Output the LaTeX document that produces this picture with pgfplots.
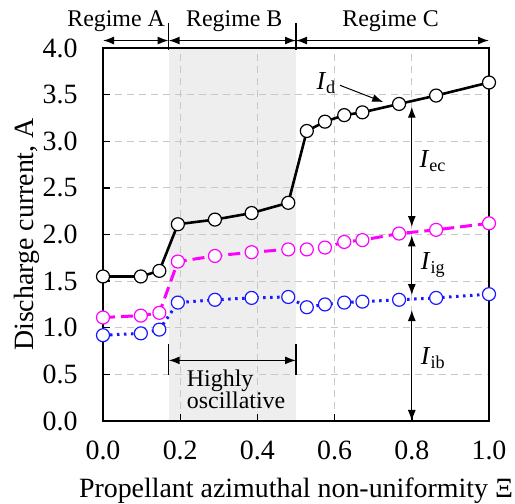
\documentclass[border=0pt]{standalone}
\usepackage{fontspec}
\setmainfont{Liberation Serif}
\usepackage{pgfplots}
\pgfplotsset{compat=1.18}
\usetikzlibrary{arrows.meta}
\definecolor{shadec}{RGB}{238,238,238}
\definecolor{gridc}{RGB}{200,200,200}
\definecolor{mag}{RGB}{255,0,255}
\definecolor{blu}{RGB}{25,25,255}
\pgfplotstableread{
x y
0.000 1.55
0.098 1.55
0.146 1.61
0.194 2.11
0.290 2.16
0.385 2.23
0.480 2.34
0.528 3.11
0.575 3.21
0.625 3.28
0.672 3.31
0.767 3.40
0.863 3.49
1.000 3.63
}\Id
\pgfplotstableread{
x y
0.000 1.11
0.098 1.13
0.146 1.16
0.194 1.71
0.290 1.77
0.385 1.81
0.480 1.84
0.528 1.84
0.575 1.86
0.625 1.92
0.672 1.94
0.767 2.01
0.863 2.05
1.000 2.12
}\Iig
\pgfplotstableread{
x y
0.000 0.92
0.098 0.94
0.146 0.98
0.194 1.27
0.290 1.30
0.385 1.32
0.480 1.33
0.528 1.22
0.575 1.25
0.625 1.27
0.672 1.28
0.767 1.30
0.863 1.32
1.000 1.36
}\Iib
\begin{document}
\begin{tikzpicture}[>={Latex[length=11bp,width=8bp]}]
\begin{axis}[
  set layers,
  scale only axis, width=386bp, height=373bp,
  xmin=0, xmax=1, ymin=0, ymax=4,
  xtick={0,0.2,0.4,0.6,0.8,1}, ytick={0,0.5,1,1.5,2,2.5,3,3.5,4},
  xtick pos=left, ytick pos=left, tick align=inside,
  major tick length=7bp,
  every tick/.style={black, line width=1.4bp},
  axis line style={line width=1.6bp},
  grid=major,
  major grid style={gridc, line width=1.2bp, dash pattern=on 7bp off 5bp},
  /pgf/number format/assume math mode=true,
  /pgf/number format/fixed,
  /pgf/number format/fixed zerofill,
  /pgf/number format/precision=1,
  ticklabel style={font=\fontsize{28}{32}\selectfont},
  xticklabel style={yshift=-16bp},
  yticklabel style={xshift=-22bp},
  xlabel={Propellant azimuthal non-uniformity Ξ},
  ylabel={Discharge current, A},
  label style={font=\fontsize{28}{32}\selectfont},
  xlabel style={at={(axis description cs:0.5,-0.187)}, anchor=center},
  ylabel style={at={(axis description cs:-0.197,0.5)}, anchor=center},
  clip=false,
]
\addplot[fill=shadec, draw=none, on layer=axis background] coordinates {(0.17,0) (0.17,4) (0.5,4) (0.5,0)} -- cycle;

\addplot[black, line width=2.6bp, mark=*, mark size=6.5bp, mark options={solid, fill=white, draw=black, line width=1.2bp}] table {\Id};
\addplot[mag, line width=3bp, dash pattern=on 12bp off 6bp, mark=*, mark size=6.5bp, mark options={solid, fill=white, draw=mag, line width=1.2bp}] table {\Iig};
\addplot[blu, line width=3bp, dash pattern=on 2.5bp off 4.5bp, mark=*, mark size=6.5bp, mark options={solid, fill=white, draw=blu, line width=1.2bp}] table {\Iib};

% regime annotations
\begin{scope}[font=\fontsize{24}{26}\selectfont]
\draw[<->, line width=1.4bp] (axis cs:0,4.08) -- (axis cs:0.17,4.08);
\draw[<->, line width=1.4bp] (axis cs:0.17,4.08) -- (axis cs:0.5,4.08);
\draw[<->, line width=1.4bp] (axis cs:0.5,4.08) -- (axis cs:1,4.08);
\draw[line width=1.2bp] (axis cs:0.17,4.27) -- (axis cs:0.17,3.98);
\draw[line width=1.2bp] (axis cs:0.5,4.27) -- (axis cs:0.5,3.98);
\node at (axis cs:0.034,4.29) {Regime A};
\node at (axis cs:0.34,4.29) {Regime B};
\node at (axis cs:0.745,4.29) {Regime C};

% highly oscillative
\draw[<->, line width=1.4bp] (axis cs:0.17,0.65) -- (axis cs:0.5,0.65);
\draw[line width=1.2bp] (axis cs:0.17,0.83) -- (axis cs:0.17,0.49);
\draw[line width=1.2bp] (axis cs:0.5,0.83) -- (axis cs:0.5,0.49);
\node[anchor=west, align=left, inner sep=0pt, font=\fontsize{24}{20}\selectfont] at (axis cs:0.217,0.34) {Highly\\oscillative};

% current components
\draw[<->, line width=1.2bp] (axis cs:0.8,3.37) -- (axis cs:0.8,2.08);
\draw[<->, line width=1.2bp] (axis cs:0.8,1.99) -- (axis cs:0.8,1.35);
\draw[<->, line width=1.2bp] (axis cs:0.8,1.19) -- (axis cs:0.8,0);
\node[anchor=west, inner sep=0pt, font=\fontsize{26}{28}\selectfont] at (axis cs:0.82,2.79) {\textit{I}\textsubscript{ec}};
\node[anchor=west, inner sep=0pt, font=\fontsize{26}{28}\selectfont] at (axis cs:0.823,1.67) {\textit{I}\textsubscript{ig}};
\node[anchor=west, inner sep=0pt, font=\fontsize{26}{28}\selectfont] at (axis cs:0.823,0.67) {\textit{I}\textsubscript{ib}};
\node[font=\fontsize{26}{28}\selectfont] at (axis cs:0.578,3.62) {\textit{I}\textsubscript{d}};
\draw[->, line width=1bp] (axis cs:0.614,3.60) -- (axis cs:0.726,3.42);
\end{scope}
\end{axis}
\pgfresetboundingbox
\path[use as bounding box] ([shift={(-103bp,-83bp)}]current axis.south west) rectangle ([shift={(26bp,48bp)}]current axis.north east);
\end{tikzpicture}
\end{document}
